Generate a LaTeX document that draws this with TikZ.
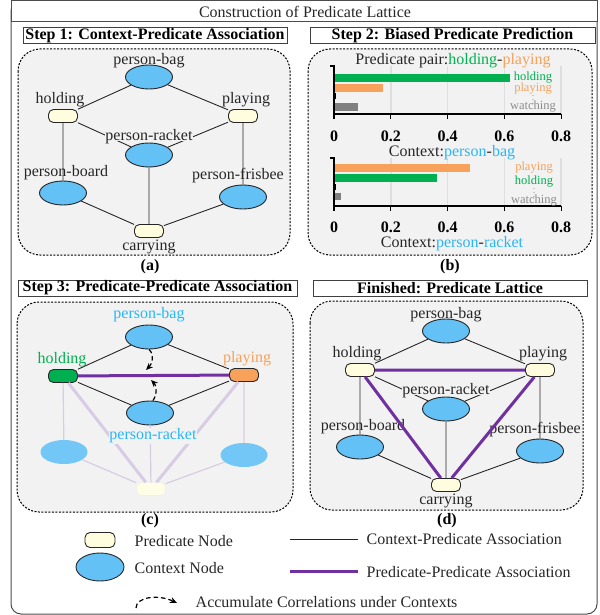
\documentclass[tikz,border=0pt]{standalone}
\usepackage{fontspec}
\setmainfont{Liberation Serif}
\usetikzlibrary{arrows.meta,shapes.geometric}
\definecolor{ctxblue}{RGB}{99,193,245}
\definecolor{predyel}{RGB}{255,253,222}
\definecolor{txtblue}{RGB}{41,182,246}
\definecolor{hgreen}{RGB}{0,176,80}
\definecolor{porange}{RGB}{247,161,90}
\definecolor{ppurple}{RGB}{112,48,160}
\definecolor{fadepurple}{RGB}{216,204,228}
\definecolor{panelgray}{RGB}{242,242,242}
\definecolor{gridgray}{RGB}{222,222,222}
\tikzset{
  ctx/.style={ellipse,draw=black!85,line width=0.9,fill=ctxblue,minimum width=47,minimum height=24,inner sep=0},
  pred/.style={rectangle,rounded corners=5,draw=black!85,line width=0.9,fill=predyel,minimum width=29,minimum height=13,inner sep=0},
  lbl/.style={font=\fontsize{16}{18}\selectfont,inner sep=0.5,text=black!85},
  cutlbl/.style={lbl,fill=panelgray,text height=8pt,text depth=0pt},
  barlbl/.style={font=\fontsize{12.5}{13}\selectfont,inner sep=0},
  ticklbl/.style={font=\bfseries\fontsize{16}{18}\selectfont,inner sep=0},
  capt/.style={font=\bfseries\fontsize{16}{18}\selectfont,inner sep=0},
  steptitle/.style={draw=black!75,line width=1,fill=white,font=\bfseries\fontsize{16}{18}\selectfont,inner sep=0,minimum height=16},
  panel/.style={draw,line width=1,dash pattern=on 2pt off 1.5pt,fill=panelgray,rounded corners=22},
  cp/.style={line width=0.9,black!85},
  pp/.style={line width=3,ppurple},
  fadethin/.style={line width=1.2,fadepurple},
  fadethick/.style={line width=3,fadepurple},
  accum/.style={line width=1.2,dash pattern=on 4.5pt off 3pt,-{Stealth[length=7pt,width=6pt]}},
  axisline/.style={line width=1.3,black}
}
\begin{document}
\begin{tikzpicture}[x=1pt,y=-1pt]
\useasboundingbox (0,0) rectangle (599,615);
% outer frame and title
\draw[line width=1,black!70,rounded corners=10] (11,1) rectangle (597,614);
\draw[line width=1,black!70,fill=white] (11,1) rectangle (597,22);
\node[lbl] (title) at (305,12) {Construction of Predicate Lattice};

% panels
\draw[panel] (18,49) rectangle (290,255);
\draw[panel] (308,49) rectangle (592,255);
\draw[panel] (17,302) rectangle (293,512);
\draw[panel] (310,301) rectangle (583,510);
\node[steptitle,minimum width=264] (s1) at (155,36) {Step 1: Context-Predicate Association};
\node[steptitle,minimum width=285] (s2) at (452.5,36) {Step 2: Biased Predicate Prediction};
\node[steptitle,minimum width=279] (s3) at (157.5,288) {Step 3: Predicate-Predicate Association};
\node[steptitle,minimum width=274] (s4) at (450,288) {Finished: Predicate Lattice};
\node[capt] (capa) at (150,267) {(a)};
\node[capt] (capb) at (450,267) {(b)};
\node[capt] (capc) at (150,521) {(c)};
\node[capt] (capd) at (447,521) {(d)};

% (a) and (d): the lattice
\foreach \p/\dx/\dy in {a/0/0,d/297/254}{
\begin{scope}[shift={(\dx,\dy)}]
\node[ctx] (\p-bag) at (149,77) {};
\node[pred] (\p-hold) at (63,116) {};
\node[pred] (\p-play) at (243,116) {};
\node[ctx] (\p-rack) at (149,155) {};
\node[ctx] (\p-board) at (63,193) {};
\node[ctx] (\p-fris) at (243,197) {};
\node[pred] (\p-carry) at (149,231) {};
\draw[cp] (\p-bag) -- (\p-hold) (\p-bag) -- (\p-play)
  (\p-hold) -- (\p-rack) (\p-play) -- (\p-rack)
  (\p-hold) -- (\p-board) (\p-play) -- (\p-fris)
  (\p-board) -- (\p-carry) (\p-fris) -- (\p-carry) (\p-rack) -- (\p-carry);
\node[lbl] (\p-bagl) at (149,61) {person-bag};
\node[lbl] (\p-holdl) at (60,100) {holding};
\node[lbl] (\p-playl) at (246,100) {playing};
\node[cutlbl] (\p-rackl) at (149,136) {person-racket};
\node[lbl] (\p-boardl) at (66,173) {person-board};
\node[lbl] (\p-frisl) at (238,176) {person-frisbee};
\node[lbl] (\p-carryl) at (149,247) {carrying};
\end{scope}}
\draw[pp] (d-hold) -- (d-play) (d-hold) -- (d-carry) (d-play) -- (d-carry);

% (c)
\node[ellipse,fill=ctxblue!90,minimum width=47,minimum height=24,inner sep=0] (c-board) at (64,452) {};
\node[ellipse,fill=ctxblue!90,minimum width=47,minimum height=24,inner sep=0] (c-fris) at (244,455) {};
\node[pred,draw=predyel!80!black!30,fill=predyel!80,line width=0.6] (c-carry) at (151,489) {};
\node[ctx] (c-bag) at (149,337) {};
\node[ctx] (c-rack) at (150,413) {};
\node[pred,fill=hgreen] (c-hold) at (63,376) {};
\node[pred,fill=porange] (c-play) at (244,375) {};
\draw[fadethin] (c-hold) -- (c-board) (c-board) -- (c-carry) (c-rack) -- (c-carry)
  (c-fris) -- (c-carry) (c-play) -- (c-fris);
\draw[fadethick] (c-hold) -- (c-carry) (c-play) -- (c-carry);
\draw[cp] (c-bag) -- (c-hold) (c-bag) -- (c-play) (c-rack) -- (c-hold) (c-rack) -- (c-play);
\draw[pp] (c-hold) -- (c-play);
\node[lbl,text=txtblue] (c-bagl) at (149,315) {person-bag};
\node[lbl,text=hgreen] (c-holdl) at (62,360) {holding};
\node[lbl,text=porange] (c-playl) at (247,359) {playing};
\node[lbl,text=txtblue,fill=panelgray] (c-rackl) at (153,436) {person-racket};
\coordinate (c-up) at (146,370);
\coordinate (c-dn) at (151,380);
\draw[accum] (c-bag.south) .. controls (155,355) and (152,364) .. (c-up);
\draw[accum] ([xshift=3]c-rack.north) .. controls (158,393) and (156,385) .. (c-dn);

% (b): two bar charts
\xdef\xo{334}
\xdef\su{284}
\foreach \yt/\yb in {66/114,158/206}{
  \foreach \t in {0.2,0.4,0.6,0.8}
    \draw[gridgray,line width=1.5] ({\xo+\t*\su},\yt) -- ({\xo+\t*\su},\yb);
}
% top chart
\fill[hgreen] (\xo,74) rectangle ({\xo+0.62*\su},82);
\fill[porange] (\xo,84) rectangle ({\xo+0.173*\su},92);
\fill[black] (\xo,93) rectangle ({\xo+0.006*\su},99);
\fill[black!50] (\xo,103) rectangle ({\xo+0.085*\su},111);
% bottom chart
\fill[porange] (\xo,164) rectangle ({\xo+0.479*\su},172);
\fill[hgreen] (\xo,174) rectangle ({\xo+0.363*\su},182);
\fill[black] (\xo,184) rectangle ({\xo+0.006*\su},190);
\fill[black!50] (\xo,193) rectangle ({\xo+0.025*\su},200);
\foreach \yt/\yb/\yl/\c in {66/114/136/u,158/206/227/v}{
  \draw[axisline] (\xo-4,\yt) -- (\xo,\yt) -- (\xo,\yb+5);
  \draw[axisline] (\xo,\yb) -- ({\xo+0.8*\su},\yb);
  \foreach \t [count=\i] in {0,0.2,0.4,0.6,0.8}{
    \draw[axisline] ({\xo+\t*\su},\yb) -- ({\xo+\t*\su},\yb+5);
    \node[ticklbl] (\c-tick\i) at ({\xo+\t*\su},\yl) {\t};
  }
}
\node[lbl] (pairl) at (453,61) {Predicate pair:\textcolor{hgreen}{holding}-\textcolor{porange}{playing}};
\node[barlbl,text=hgreen] (u-hold) at (533,78) {holding};
\node[barlbl,text=porange] (u-play) at (533,89) {playing};
\node[barlbl] (u-dots) at (533,97.5) {\fontsize{6}{6}\selectfont$\vdots$};
\node[barlbl,text=black!45] (u-watch) at (533,107) {watching};
\node[lbl] (ctxbag) at (452,153) {Context:\textcolor{txtblue}{person}-\textcolor{txtblue}{bag}};
\node[barlbl,text=porange] (v-play) at (534,168) {playing};
\node[barlbl,text=hgreen] (v-hold) at (534,182) {holding};
\node[barlbl] (v-dots) at (534,190.5) {\fontsize{6}{6}\selectfont$\vdots$};
\node[barlbl,text=black!45] (v-watch) at (534,201) {watching};
\node[lbl] (ctxrack) at (452,244) {Context:\textcolor{txtblue}{person}-\textcolor{txtblue}{racket}};

% legend
\node[pred,minimum width=30,minimum height=15] (lg-pred) at (100,540) {};
\node[lbl,anchor=west] (lg-predt) at (134,541) {Predicate Node};
\node[ctx,minimum width=48,minimum height=28] (lg-ctx) at (100,567) {};
\node[lbl,anchor=west] (lg-ctxt) at (134,568) {Context Node};
\coordinate (lg-a) at (290,539);
\coordinate (lg-b) at (358,539);
\draw[cp] (lg-a) -- (lg-b);
\node[lbl,anchor=west] (lg-cpt) at (366,539) {Context-Predicate Association};
\coordinate (lg-c) at (290,571);
\coordinate (lg-d) at (358,571);
\draw[pp] (lg-c) -- (lg-d);
\node[lbl,anchor=west] (lg-ppt) at (366,572) {Predicate-Predicate Association};
\coordinate (lg-e) at (136,608);
\coordinate (lg-f) at (177,603);
\draw[accum] (lg-e) .. controls (136,597) and (158,594) .. (lg-f);
\node[lbl,anchor=west] (lg-acct) at (195,602) {Accumulate Correlations under Contexts};
\end{tikzpicture}
\end{document}
